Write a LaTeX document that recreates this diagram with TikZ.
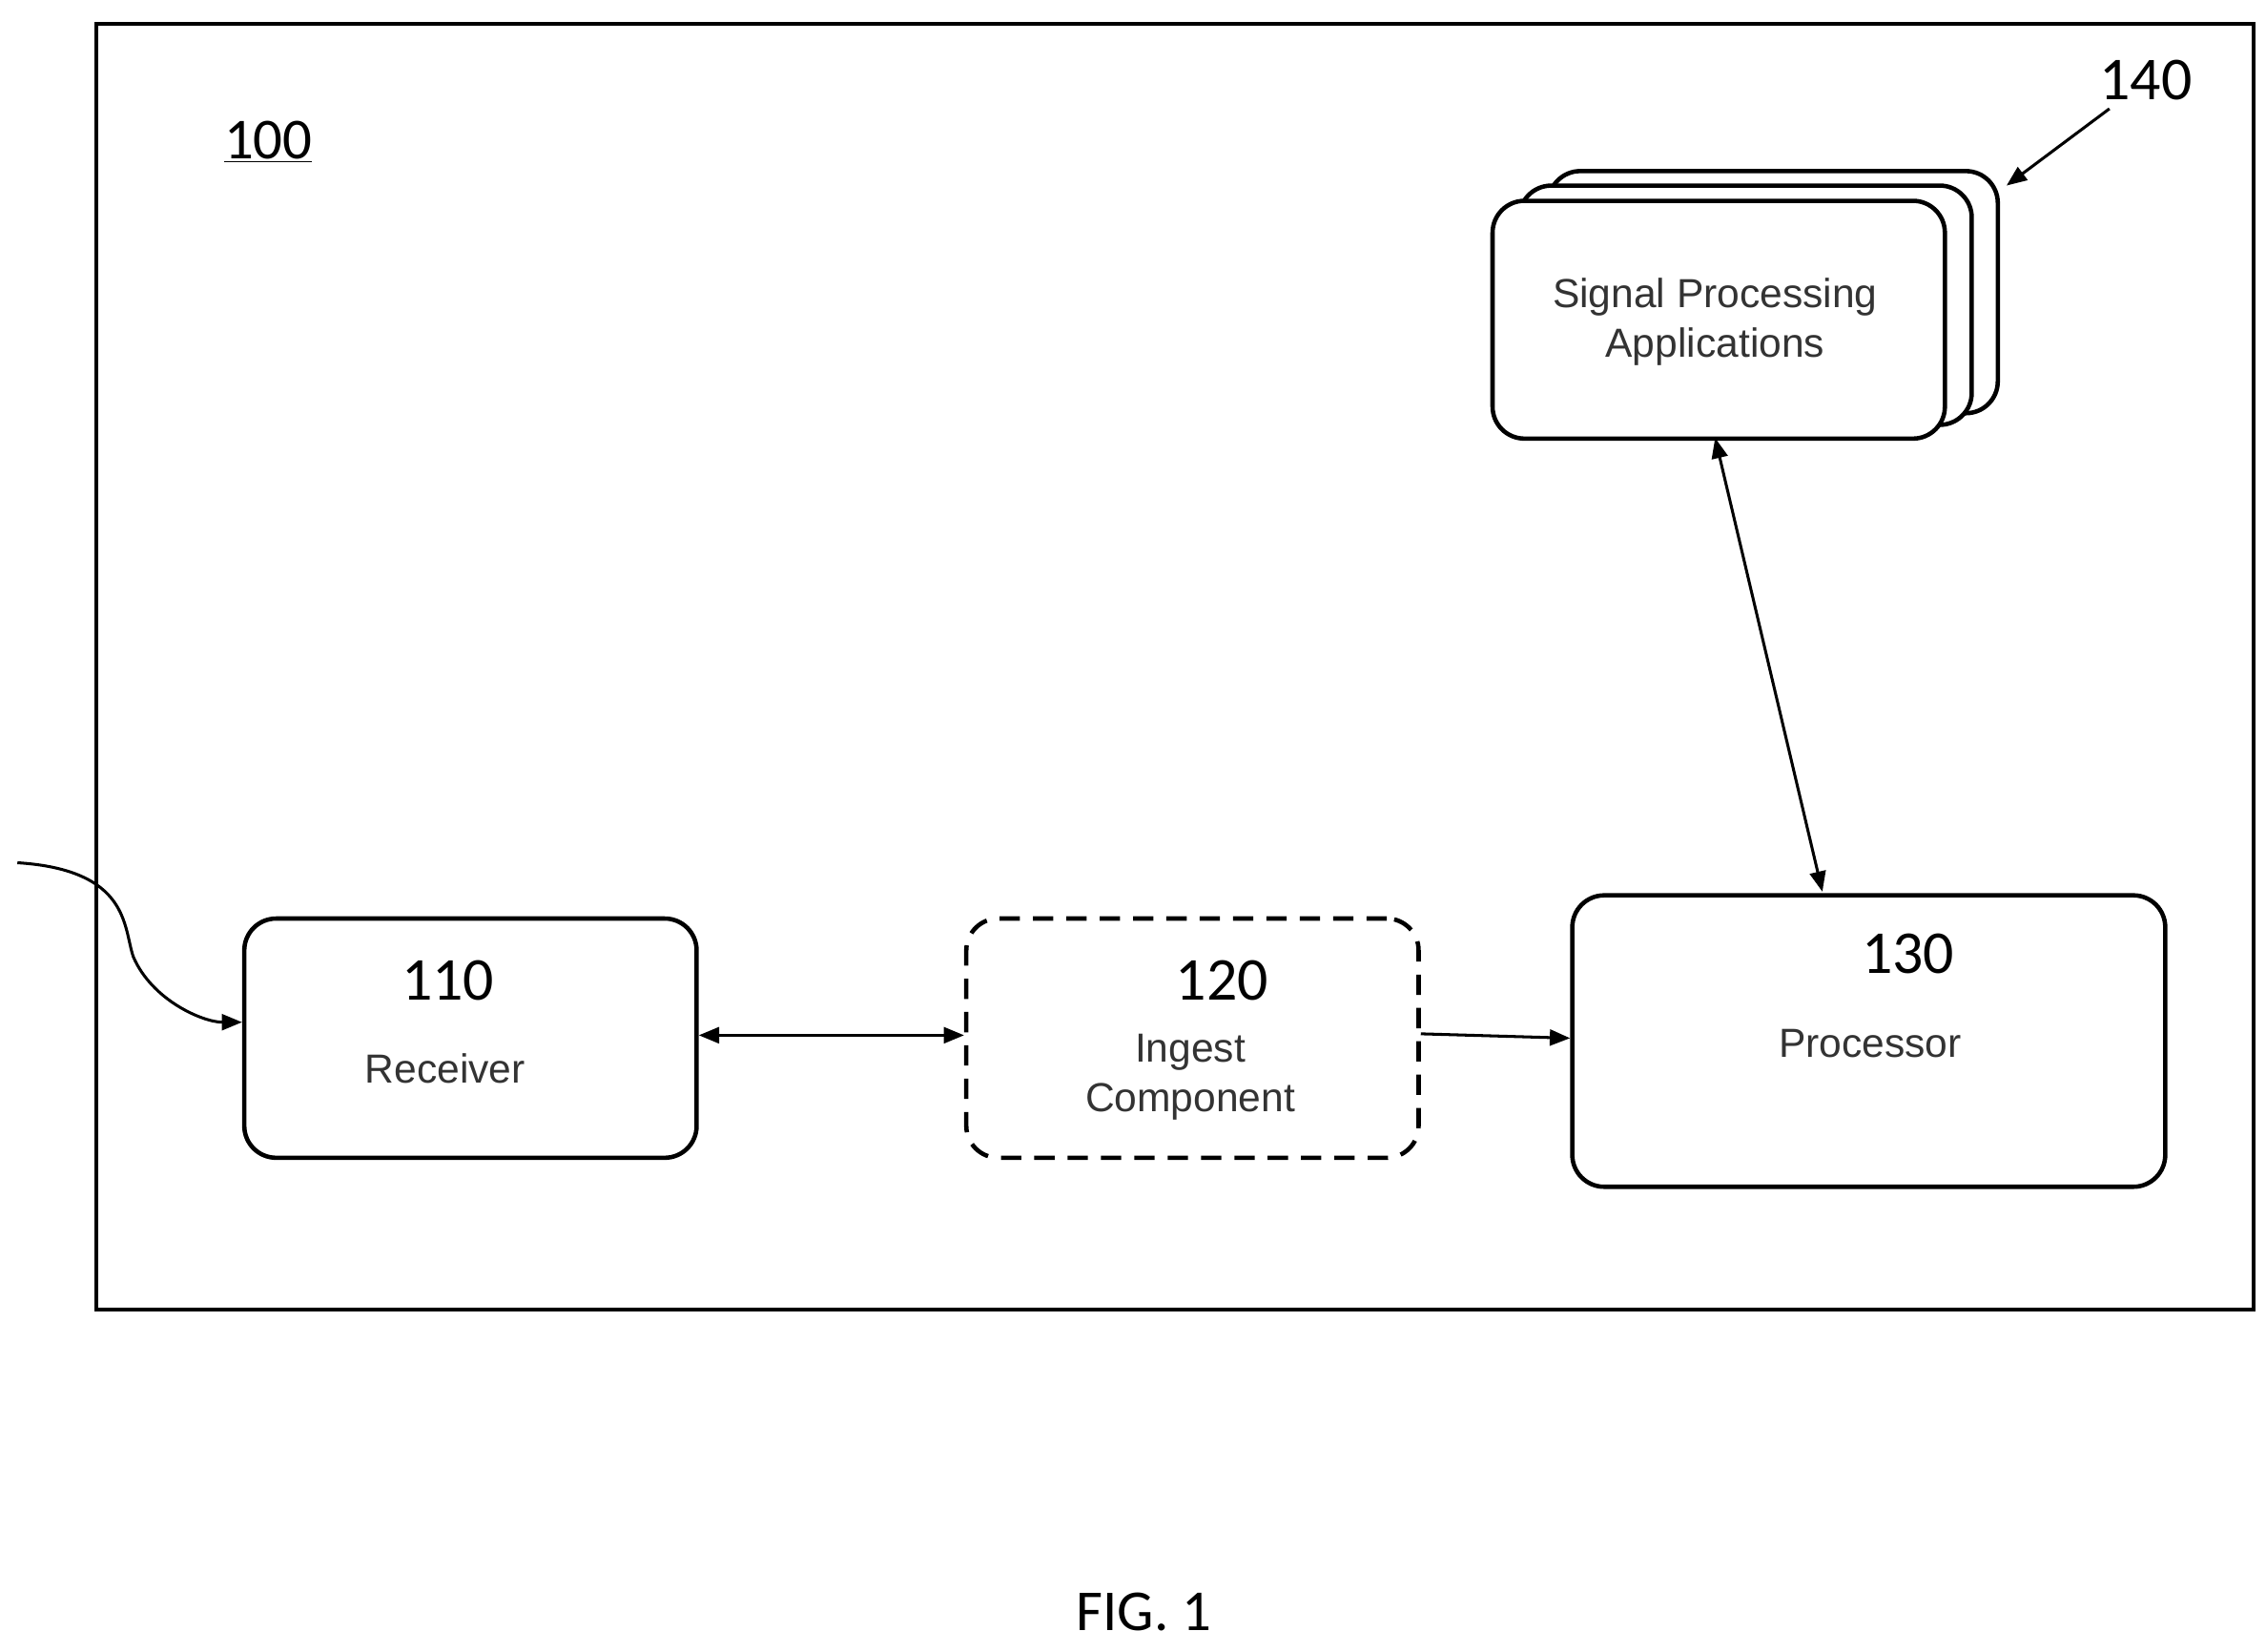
\documentclass[tikz,border=0pt]{standalone}
\usepackage{fontspec}
\setmainfont{Liberation Sans}
\newfontfamily\numfont{Carlito}
\usetikzlibrary{arrows.meta}
\begin{document}
\begin{tikzpicture}[x=1pt,y=-1pt,
  box/.style={draw,line width=3pt,rounded corners=22pt},
  lbl/.style={font=\fontsize{28}{34}\selectfont,text=black!80,align=center},
  num/.style={font=\numfont\fontsize{42}{48}\selectfont},
  arr/.style={line width=2pt,-{Triangle[length=14pt,width=11pt]}},
  darr/.style={line width=2pt,{Triangle[length=14pt,width=11pt]}-{Triangle[length=14pt,width=11pt]}}]
\useasboundingbox (0,0) rectangle (1563,1139);
\node[draw,line width=2.5pt,minimum width=1488pt,minimum height=887pt,anchor=north west] (frame) at (65,15) {};
\node[num,font=\numfont\fontsize{40}{46}\selectfont] (n100) at (185,98) {\underline{100}};
% stack
\draw[box,fill=white] (1068,118) rectangle (1378,285);
\draw[box,fill=white] (1048,128) rectangle (1360,293);
\node[box,fill=white,minimum width=312pt,minimum height=164pt,anchor=north west] (spa) at (1028,137) {};
\node[lbl] at (1183,222) {Signal Processing\\Applications};
\node[num] (n140) at (1480,55) {140};
\coordinate (s140) at (1455,75);
\coordinate (e140) at (1384,128);
\draw[arr] (s140) -- (e140);
% receiver
\node[box,minimum width=312pt,minimum height=165pt,anchor=north west] (rec) at (167,632) {};
\node[num] at (309,676) {110};
\node[lbl] at (307,737) {Receiver};
% ingest
\node[box,dashed,dash pattern=on 14pt off 9pt,minimum width=312pt,minimum height=165pt,anchor=north west] (ing) at (665,632) {};
\node[num] at (843,676) {120};
\node[lbl] at (821,743) {Ingest\\Component};
% processor
\node[box,minimum width=409pt,minimum height=201pt,anchor=north west] (proc) at (1083,616) {};
\node[num] at (1316,658) {130};
\node[lbl] at (1290,720) {Processor};
% connectors
\draw[darr] (rec.east |- 0,714) -- (ing.west |- 0,714);
\draw[arr] (ing.east |- 0,713) -- (proc.west |- 0,716);
\draw[darr] (1183,302) -- (1257,615);
\coordinate (in) at (12,595);
\draw[arr] (in) .. controls (90,600) and (85,640) .. (92,660) .. controls (105,690) and (140,705) .. (rec.west |- 0,705);
\node[font=\numfont\fontsize{40}{46}\selectfont] (fig) at (789,1112) {FIG. 1};
\end{tikzpicture}
\end{document}
